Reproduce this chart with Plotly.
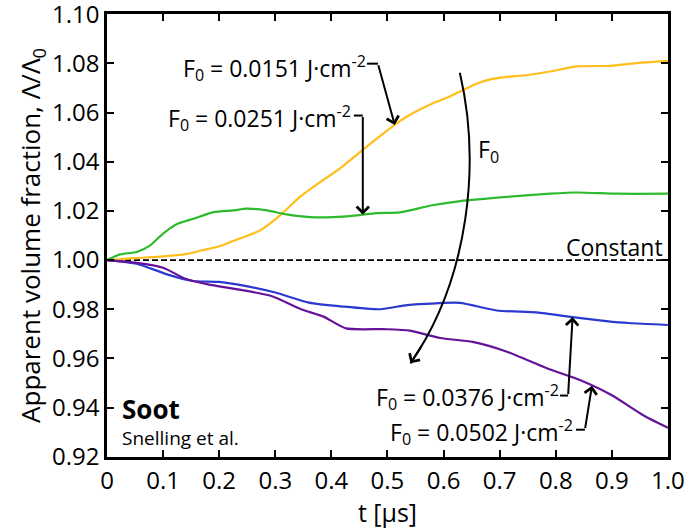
import numpy as np
import plotly.graph_objects as go

# Normalised apparent volume fraction of soot vs. time for four laser fluences
t_0151 = [0, 0.05, 0.10, 0.14, 0.17, 0.20, 0.237, 0.273, 0.308, 0.344, 0.38, 0.415,
          0.451, 0.49, 0.522, 0.55, 0.581, 0.61, 0.635, 0.66, 0.685, 0.71, 0.75, 0.79,
          0.838, 0.897, 0.94, 1.0]
v_0151 = [1.0, 1.0008, 1.0015, 1.0024, 1.004, 1.0056, 1.0088, 1.0121, 1.0181, 1.0257,
          1.0317, 1.0372, 1.0439, 1.051, 1.0565, 1.0603, 1.0638, 1.0664, 1.0692, 1.0718,
          1.0736, 1.0744, 1.0753, 1.0767, 1.0788, 1.079, 1.080, 1.081]

t_0251 = [0, 0.023, 0.053, 0.077, 0.10, 0.124, 0.154, 0.19, 0.225, 0.249, 0.285, 0.32,
          0.362, 0.403, 0.445, 0.48, 0.522, 0.58, 0.63, 0.73, 0.79, 0.838, 0.909, 1.0]
v_0251 = [1.0, 1.0023, 1.0033, 1.006, 1.0108, 1.0146, 1.0168, 1.0195, 1.0202, 1.0209,
          1.0202, 1.0186, 1.0175, 1.0175, 1.0182, 1.0191, 1.0194, 1.0223, 1.024, 1.026,
          1.027, 1.0275, 1.027, 1.027]

t_0376 = [0, 0.053, 0.107, 0.153, 0.20, 0.253, 0.30, 0.36, 0.42, 0.487, 0.535, 0.586,
          0.629, 0.695, 0.766, 0.83, 0.89, 0.93, 1.0]
v_0376 = [1.0, 0.9985, 0.9942, 0.9915, 0.9911, 0.9892, 0.9868, 0.9827, 0.9811, 0.9800,
          0.9817, 0.9824, 0.9826, 0.9795, 0.9787, 0.9768, 0.9752, 0.9744, 0.9736]

t_0502 = [0, 0.053, 0.10, 0.14, 0.18, 0.233, 0.293, 0.346, 0.386, 0.426, 0.493, 0.54,
          0.594, 0.652, 0.713, 0.784, 0.843, 0.90, 0.955, 1.0]
v_0502 = [1.0, 0.9989, 0.9969, 0.9924, 0.9901, 0.9881, 0.9854, 0.980, 0.977, 0.9722,
          0.9719, 0.9713, 0.9683, 0.9667, 0.9627, 0.956, 0.9512, 0.945, 0.937, 0.9318]

constant_level = 1.0

x_ticks = [0, 0.1, 0.2, 0.3, 0.4, 0.5, 0.6, 0.7, 0.8, 0.9, 1.0]
x_tick_text = ["0", "0.1", "0.2", "0.3", "0.4", "0.5", "0.6", "0.7", "0.8", "0.9", "1.0"]
y_ticks = [0.92, 0.94, 0.96, 0.98, 1.00, 1.02, 1.04, 1.06, 1.08, 1.10]
y_tick_text = ["0.92", "0.94", "0.96", "0.98", "1.00", "1.02", "1.04", "1.06", "1.08", "1.10"]

FONT = "Open Sans"
series = [
    (t_0151, v_0151, "#FFBE1A"),
    (t_0251, v_0251, "#2DBB2D"),
    (t_0376, v_0376, "#2A3AD0"),
    (t_0502, v_0502, "#65129A"),
]

fig = go.Figure()

fig.add_trace(go.Scatter(
    x=[0, 1], y=[constant_level, constant_level], mode="lines",
    line=dict(color="black", width=1.6, dash="6px,3px"), hoverinfo="skip",
))
for tt, vv, col in series:
    fig.add_trace(go.Scatter(
        x=tt, y=vv, mode="lines",
        line=dict(color=col, width=2.2, shape="spline", smoothing=0.6),
    ))

annotations = []
shapes = []


def label(text, x, y, xanchor="right", size=23, xref="x", **kw):
    annotations.append(dict(
        text=text, x=x, y=y, xref=xref, yref="y", xanchor=xanchor, yanchor="middle",
        showarrow=False, font=dict(family=FONT, size=size, color="black"), **kw))


def leader(x0, x1, y, tip_x, tip_series_t, tip_series_v):
    # short horizontal tail, then an arrow onto the curve
    tip_y = float(np.interp(tip_x, tip_series_t, tip_series_v))
    shapes.append(dict(type="line", xref="x", yref="y", x0=x0, x1=x1, y0=y, y1=y,
                       line=dict(color="black", width=2)))
    annotations.append(dict(
        x=tip_x, y=tip_y, ax=x1, ay=y, xref="x", yref="y", axref="x", ayref="y",
        text="", showarrow=True, arrowhead=4, arrowsize=1.2, arrowwidth=2,
        arrowcolor="black", standoff=0, startstandoff=0))


unit = " J·cm<sup>-2</sup>"
label("F<sub>0</sub> = 0.0151" + unit, 0.465, 1.0783)
leader(0.4635, 0.483, 1.0799, 0.513, t_0151, v_0151)

label("F<sub>0</sub> = 0.0251" + unit, 0.438, 1.0576)
leader(0.440, 0.456, 1.0588, 0.456, t_0251, v_0251)

label("F<sub>0</sub> = 0.0376" + unit, 0.810, 0.9444)
leader(0.8075, 0.822, 0.9449, 0.830, t_0376, v_0376)

label("F<sub>0</sub> = 0.0502" + unit, 0.834, 0.9300)
leader(0.836, 0.852, 0.9310, 0.8645, t_0502, v_0502)

# curved arrow showing the direction of increasing fluence
p0 = (0.629, 1.0762)
c1 = (0.666, 1.040)
c2 = (0.647, 0.993)
p3 = (0.541, 0.958)
shapes.append(dict(
    type="path", xref="x", yref="y",
    path=f"M {p0[0]},{p0[1]} C {c1[0]},{c1[1]} {c2[0]},{c2[1]} {p3[0]},{p3[1]}",
    line=dict(color="black", width=2)))
s = 0.93
tail = tuple((1 - s) ** 3 * a + 3 * (1 - s) ** 2 * s * b + 3 * (1 - s) * s ** 2 * c + s ** 3 * d
             for a, b, c, d in zip(p0, c1, c2, p3))
annotations.append(dict(
    x=p3[0], y=p3[1], ax=tail[0], ay=tail[1], xref="x", yref="y", axref="x", ayref="y",
    text="", showarrow=True, arrowhead=4, arrowsize=1.2, arrowwidth=2,
    arrowcolor="black", standoff=0))
label("F<sub>0</sub>", 0.658, 1.0446, xanchor="left")

label("Constant", 0.995, 1.0052, xref="paper")
label("<b>Soot</b>", 0.024, 0.9395, xanchor="left", size=26)
label("Snelling et al.", 0.024, 0.9277, xanchor="left", size=19)

axis_common = dict(
    showline=True, linecolor="black", linewidth=2.5, mirror="ticks",
    ticks="inside", ticklen=7, tickwidth=2, tickcolor="black",
    showgrid=False, zeroline=False, ticklabeloverflow="allow", automargin=False,
    tickfont=dict(family=FONT, size=24, color="black"),
)

fig.update_layout(
    width=685, height=529,
    margin=dict(l=107, r=17, t=14, b=72),
    paper_bgcolor="white", plot_bgcolor="white",
    showlegend=False,
    font=dict(family=FONT, color="black"),
    xaxis=dict(range=[0, 1.0001], tickvals=x_ticks, ticktext=x_tick_text,
               title=dict(text="t [μs]", font=dict(family=FONT, size=25), standoff=2),
               **axis_common),
    yaxis=dict(range=[0.9199, 1.1001], tickvals=y_ticks, ticktext=y_tick_text,
               title=dict(text="Apparent volume fraction, Λ/Λ<sub>0</sub>",
                          font=dict(family=FONT, size=26), standoff=4),
               **axis_common),
    annotations=annotations,
    shapes=shapes,
)

fig.write_html("out.html")
